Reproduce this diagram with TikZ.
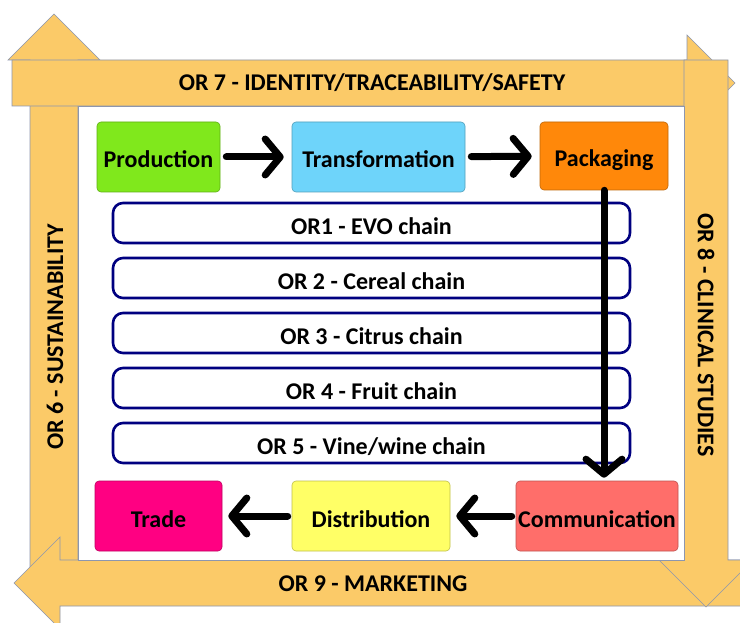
\documentclass[tikz,border=0pt]{standalone}
\usepackage{fontspec}
\setmainfont{Carlito}
\usetikzlibrary{arrows.meta}
\definecolor{barc}{RGB}{251,202,104}
\definecolor{barline}{RGB}{140,150,175}
\definecolor{prodc}{RGB}{128,232,28}
\definecolor{transc}{RGB}{110,212,250}
\definecolor{packc}{RGB}{255,136,10}
\definecolor{tradec}{RGB}{255,0,130}
\definecolor{distc}{RGB}{255,255,102}
\definecolor{commc}{RGB}{255,110,106}
\definecolor{navy}{RGB}{0,0,128}
\tikzset{
  bar/.style={fill=barc, draw=barline, line width=0.6pt, line join=miter},
  bartext/.style={font=\fontsize{24}{24}\selectfont\bfseries, text=black, inner sep=0pt},
  box/.style={rounded corners=4pt, line width=0.6pt, inner sep=0pt, text height=22pt, text depth=0pt, font=\fontsize{24}{24}\selectfont\bfseries, text=black},
  chain/.style={rounded corners=10pt, draw=navy, line width=2.6pt, fill=white, minimum width=517pt, minimum height=40pt, inner sep=0pt, text height=23pt, text depth=0pt, font=\fontsize{24}{24}\selectfont\bfseries, text=black},
  flow/.style={line width=7pt, line cap=round, -{Straight Barb[length=15pt,width=36pt,round]}}
}
\begin{document}
\begin{tikzpicture}[x=1pt,y=-1pt]
\useasboundingbox (0,0) rectangle (740,623);
\fill[white] (0,0) rectangle (740,623);
% frame arrows
\draw[bar] (30,575) -- (30,60) -- (8,60) -- (54,14) -- (100,60) -- (78,60) -- (78,575) -- cycle;
\draw[bar] (748,560) -- (60,560) -- (60,537) -- (14,583) -- (60,629) -- (60,606) -- (748,606) -- cycle;
\draw[bar] (12,60) -- (687,60) -- (687,35) -- (735,83) -- (687,131) -- (687,106) -- (12,106) -- cycle;
\draw[bar] (684,60) -- (728,60) -- (728,560) -- (753,560) -- (706,607) -- (659,560) -- (684,560) -- cycle;
% panel
\draw[fill=white, draw=barline, line width=0.6pt] (78,106) rectangle (684,560);
% bar labels
\node[bartext] (or7) at (372,83) {OR 7 - IDENTITY/TRACEABILITY/SAFETY};
\node[bartext, rotate=90] (or6) at (55,337) {OR 6 - SUSTAINABILITY};
\node[bartext, rotate=-90] (or8) at (706,335) {OR 8 - CLINICAL STUDIES};
\node[bartext] (or9) at (373,584) {OR 9 - MARKETING};
% chain boxes
\node[chain] (c1) at (371.5,223) {OR1 - EVO chain};
\node[chain] (c2) at (371.5,278) {OR 2 - Cereal chain};
\node[chain] (c3) at (371.5,333) {OR 3 - Citrus chain};
\node[chain] (c4) at (371.5,388) {OR 4 - Fruit chain};
\node[chain] (c5) at (371.5,443) {OR 5 - Vine/wine chain};
% process boxes
\node[box, fill=prodc, draw=prodc!75!black, minimum width=123pt, minimum height=70pt] (prod) at (158.5,157) {Production};
\node[box, fill=transc, draw=transc!75!black, minimum width=173pt, minimum height=70pt] (trans) at (378.5,157) {Transformation};
\node[box, fill=packc, draw=packc!75!black, minimum width=128pt, minimum height=68pt] (pack) at (604,156) {Packaging};
\node[box, fill=tradec, draw=tradec!75!black, minimum width=127pt, minimum height=70pt] (trade) at (158.5,516) {Trade};
\node[box, fill=distc, draw=distc!75!black, minimum width=158pt, minimum height=70pt] (dist) at (371,516) {Distribution};
\node[box, fill=commc, draw=commc!75!black, minimum width=162pt, minimum height=70pt] (comm) at (597,516) {Communication};
% flow arrows
\draw[flow, shorten <=6pt, shorten >=8pt] (prod) -- (trans);
\draw[flow, shorten <=6pt, shorten >=8pt] (trans) -- (pack);
\draw[flow, shorten >=3pt] (pack.south) -- (pack.south |- comm.north);
\draw[flow, shorten <=4pt, shorten >=6pt] (comm) -- (dist);
\draw[flow, shorten <=4pt, shorten >=6pt] (dist) -- (trade);
\end{tikzpicture}
\end{document}
